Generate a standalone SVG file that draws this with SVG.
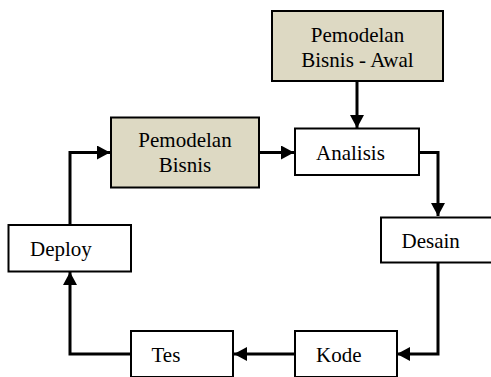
<svg xmlns="http://www.w3.org/2000/svg" width="491" height="377" viewBox="0 0 491 377">
  <style>
    .box { fill: #ffffff; stroke: #000000; stroke-width: 2; }
    .shaded { fill: #ddd9c3; }
    .label { font-family: 'Liberation Serif', 'DejaVu Serif', serif; font-size: 21px; fill: #000000; }
    .mid { text-anchor: middle; }
    .link { fill: none; stroke: #000000; stroke-width: 3; marker-end: url(#head); }
  </style>
  <defs>
    <marker id="head" markerWidth="14" markerHeight="14" refX="13" refY="7" orient="auto" markerUnits="userSpaceOnUse">
      <path d="M0,0 L13,7 L0,14 Z" fill="#000000"/>
    </marker>
  </defs>
  <rect width="491" height="377" fill="#ffffff"/>

  <g id="connectors">
    <path class="link" d="M357,81 V128"/>
    <path class="link" d="M259,152.5 H294"/>
    <path class="link" d="M419,152.5 H438 V216"/>
    <path class="link" d="M438,263 V354 H397"/>
    <path class="link" d="M295,354 H234"/>
    <path class="link" d="M131,354 H70 V272"/>
    <path class="link" d="M70,225 V152.5 H110"/>
  </g>

  <g id="pemodelan-bisnis-awal">
    <rect class="box shaded" x="272" y="11" width="171" height="70"/>
    <text class="label mid" x="357.5" y="42" font-family="Liberation Serif, serif">Pemodelan</text>
    <text class="label mid" x="357.5" y="67" font-family="Liberation Serif, serif">Bisnis - Awal</text>
  </g>
  <g id="analisis">
    <rect class="box" x="295" y="128.5" width="124" height="46.5"/>
    <text class="label" x="316" y="160" font-family="Liberation Serif, serif">Analisis</text>
  </g>
  <g id="pemodelan-bisnis">
    <rect class="box shaded" x="111" y="117.5" width="148" height="70"/>
    <text class="label mid" x="185" y="147" font-family="Liberation Serif, serif">Pemodelan</text>
    <text class="label mid" x="185" y="172" font-family="Liberation Serif, serif">Bisnis</text>
  </g>
  <g id="desain">
    <rect class="box" x="381" y="217.5" width="112" height="45"/>
    <text class="label" x="401.5" y="248" font-family="Liberation Serif, serif">Desain</text>
  </g>
  <g id="kode">
    <rect class="box" x="295" y="331" width="102" height="46"/>
    <text class="label" x="316" y="362" font-family="Liberation Serif, serif">Kode</text>
  </g>
  <g id="tes">
    <rect class="box" x="131" y="331" width="102" height="46"/>
    <text class="label" x="151.5" y="362" font-family="Liberation Serif, serif">Tes</text>
  </g>
  <g id="deploy">
    <rect class="box" x="8.5" y="225" width="122.5" height="46.5"/>
    <text class="label" x="30" y="256" font-family="Liberation Serif, serif">Deploy</text>
  </g>
</svg>
